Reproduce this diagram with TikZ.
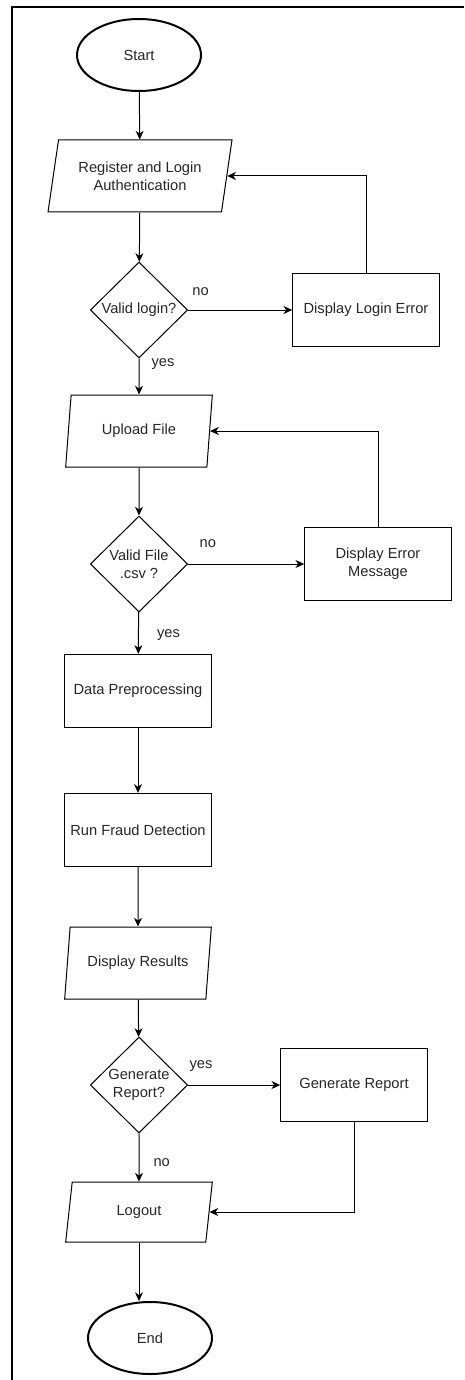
\documentclass[tikz,border=0pt]{standalone}
\usepackage{fontspec}
\setmainfont{Liberation Sans}
\usepackage{tikz}
\usetikzlibrary{shapes.geometric, arrows.meta, positioning, calc}

\definecolor{flowtext}{HTML}{262626}

\tikzset{
  base/.style={draw=black, text=flowtext, align=center,
    font=\fontsize{11}{13.5}\selectfont},
  terminal/.style={base, ellipse, line width=1.5pt, minimum width=93pt,
    minimum height=54pt, inner sep=0pt},
  io/.style={base, trapezium, trapezium left angle=71.5, trapezium right angle=108.5,
    trapezium stretches body=true, line width=0.75pt, minimum width=110pt,
    minimum height=54pt, inner sep=1pt},
  process/.style={base, rectangle, line width=0.75pt, minimum width=110pt,
    minimum height=55pt},
  decision/.style={base, diamond, aspect=1, line width=0.75pt, minimum width=73pt,
    minimum height=72pt, inner sep=0pt},
  flow/.style={line width=0.75pt, -{Stealth[length=6.5pt,width=6pt,inset=2pt]}},
  answer/.style={text=flowtext, font=\fontsize{11}{13.5}\selectfont}
}

\begin{document}
\begin{tikzpicture}[x=0.75pt, y=-0.75pt]
  \useasboundingbox (0,0) rectangle (464,1380);

  % Frame
  \draw[line width=1pt] (12,1380) -- (12,7) -- (464,7);

  % Main column
  \node[terminal] (start) at (139,55) {Start};
  \node[io, minimum width=138pt] (login) at (140,176) {Register and Login\\Authentication};
  \node[decision] (validlogin) at (139,310) {Valid login?};
  \node[io] (upload) at (139,431) {Upload File};
  \node[decision] (validfile) at (139,564) {Valid File\\.csv ?};
  \node[process] (preprocess) at (138,691) {Data Preprocessing};
  \node[process] (fraud) at (138,830) {Run Fraud Detection};
  \node[io] (results) at (138,963) {Display Results};
  \node[decision] (askreport) at (139,1085) {Generate\\Report?};
  \node[io, minimum height=45pt, trapezium left angle=67.5,
    trapezium right angle=112.5] (logout) at (139,1212) {Logout};
  \node[terminal] (end) at (150,1338) {End};

  % Side branches
  \node[process] (loginerror) at (366,310) {Display Login Error};
  \node[process] (fileerror) at (378,564) {Display Error\\Message};
  \node[process] (report) at (354,1085) {Generate Report};

  % Straight flow
  \draw[flow] (start) -- (login);
  \draw[flow] (login) -- (validlogin);
  \draw[flow] (validlogin) -- node[answer, pos=0.16, xshift=18pt] {yes} (upload);
  \draw[flow] (upload) -- (validfile);
  \draw[flow] (validfile) -- node[answer, pos=0.56, xshift=22.5pt] {yes} (preprocess);
  \draw[flow] (preprocess) -- (fraud);
  \draw[flow] (fraud) -- (results);
  \draw[flow] (results) -- (askreport);
  \draw[flow] (askreport) -- node[answer, pos=0.61, xshift=17pt] {no} (logout);
  \draw[flow] (logout.south) -- (logout.south |- end.north);

  % Branches and loops back
  \draw[flow] (validlogin) -- node[answer, pos=0.12, yshift=13.5pt] {no} (loginerror);
  \draw[flow] (loginerror.north) |- (login.east);
  \draw[flow] (validfile) -- node[answer, pos=0.17, yshift=15.5pt] {no} (fileerror);
  \draw[flow] (fileerror.north) |- (upload.east);
  \draw[flow] (askreport) -- node[answer, pos=0.14, yshift=14pt] {yes} (report);
  \draw[flow] (report.south) |- (logout.east);
\end{tikzpicture}
\end{document}
